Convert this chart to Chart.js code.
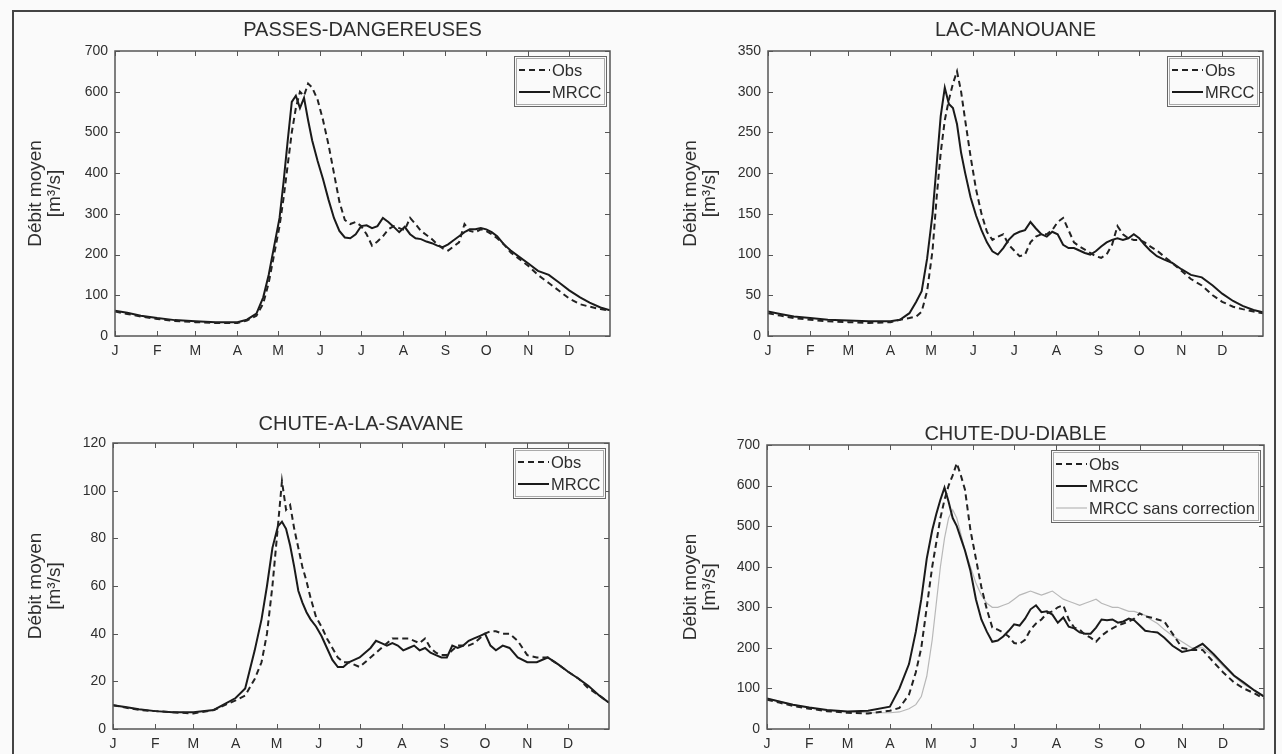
<!DOCTYPE html>
<html><head><meta charset="utf-8">
<script src="https://cdn.jsdelivr.net/npm/chart.js@4.4.1/dist/chart.umd.min.js"></script>
<style>
html,body{margin:0;padding:0;background:#fafafa;}
body{width:1282px;height:754px;position:relative;overflow:hidden;}
.frame{position:absolute;left:12px;top:10px;width:1264px;height:770px;border:2px solid #444;box-sizing:border-box;}
canvas{position:absolute;}
</style></head><body>
<div class="frame"></div>
<canvas id="c1" width="605" height="355" style="left:15px;top:15px"></canvas>
<canvas id="c2" width="603" height="355" style="left:670px;top:15px"></canvas>
<canvas id="c3" width="604" height="358" style="left:15px;top:405px"></canvas>
<canvas id="c4" width="604" height="358" style="left:670px;top:405px"></canvas>
<script>
// ---------- data ----------
const monthDays   = [1,32,60,91,121,152,182,213,244,274,305,335];
const monthLabels = ['J','F','M','A','M','J','J','A','S','O','N','D'];
const days = [1,10,20,32,45,60,75,91,98,105,110,114,118,122,125,128,131,134,137,140,143,146,150,154,158,162,166,170,174,178,182,186,190,194,198,202,206,210,214,218,222,226,230,234,238,242,246,250,254,258,262,266,270,274,278,282,287,292,298,305,312,320,328,335,343,350,358,365];

const titles = ['PASSES-DANGEREUSES','LAC-MANOUANE','CHUTE-A-LA-SAVANE','CHUTE-DU-DIABLE'];
const yTitle = ['Débit moyen','[m³/s]'];
const seriesLabels = ['Obs','MRCC','MRCC sans correction'];

const pdTicks = [0,100,200,300,400,500,600,700];
const lmTicks = [0,50,100,150,200,250,300,350];
const csTicks = [0,20,40,60,80,100,120];
const cdTicks = [0,100,200,300,400,500,600,700];

// PASSES-DANGEREUSES
const pdObs  = [60,54,48,42,37,34,32,32, 38,50,80,130,200,270,340,420,500,560, 600,590,620,610,580,530,470,400,330,285, 275,280,270,250,222,232,245,262,270,265, 260,290,275,258,248,238,225,215,210,220, 230,275,258,255,262,258,250,240,225,205, 190,172,150,130,110,92,78,72,66,62];
const pdMrcc = [62,57,50,44,39,36,34,34, 40,55,95,150,220,290,380,480,575,590, 560,585,530,480,430,385,335,290,258,242, 240,250,270,272,265,270,290,280,268,255, 268,250,240,238,232,228,222,218,225,235, 245,255,262,262,265,262,255,245,225,210, 195,178,160,150,130,112,95,82,70,63];

// LAC-MANOUANE
const lmObs  = [28,25,22,20,18,17,16,17, 20,22,24,30,55,105,170,225,265,290, 310,325,300,265,220,180,150,128,118,122, 125,112,105,98,100,115,122,125,125,130, 140,145,130,115,110,106,102,98,96,100, 112,135,125,120,118,118,115,110,105,98, 90,80,70,62,50,42,36,33,30,28];
const lmMrcc = [30,27,24,22,20,19,18,18, 20,28,42,55,95,150,210,270,305,285, 280,260,225,200,170,148,130,115,104,100, 108,118,125,128,130,140,132,125,122,128, 125,112,108,108,105,102,100,104,110,115, 118,120,118,120,125,120,112,105,98,94, 90,82,75,72,62,52,43,37,32,29];

// CHUTE-A-LA-SAVANE
const csObs  = [10,9,8,7.5,7,6.5,8,12, 14,21,28,40,60,85,104,92,94,84, 76,68,62,55,47,43,38,34,30,28, 28,27,26,28,30,32,34,36,38,38, 38,38,37,36,38,34,32,31,31,33, 35,35,35,36,38,40,41,41,40,40, 37,31,30,30,27,24,21,17,14,11];
const csMrcc = [10,9.2,8.3,7.5,7,7,8,13, 17,33,46,60,76,85,87,84,77,68, 58,53,49,46,43,39,34,29,26,26, 28,29,30,32,34,37,36,35,36,35, 33,34,35,33,34,32,31,30,30,35, 34,35,37,38,39,40,35,33,35,34, 30,28,28,30,27,24,21,18,14,11];

// CHUTE-DU-DIABLE
const cdObs  = [72,65,57,50,44,40,38,45, 52,85,140,200,300,400,460,520,565,600, 625,655,625,590,490,420,350,295,250,245, 238,228,212,210,220,245,260,270,285,290, 300,305,270,250,245,232,225,215,230,240, 248,255,260,265,272,285,278,275,270,265, 235,200,195,195,165,140,115,100,88,75];
const cdMrcc = [75,68,60,53,47,43,45,55, 100,160,240,320,420,490,530,565,595,560, 520,500,470,440,390,320,270,240,215,218, 228,242,258,255,272,295,305,288,290,282, 262,275,252,248,238,235,235,250,270,268, 270,262,265,272,268,255,242,240,238,225, 205,190,195,210,185,160,132,115,95,80];
const cdRaw  = [75,68,60,52,46,42,40,40, 42,50,60,80,130,220,310,400,470,520, 540,520,480,440,400,360,330,310,300,300, 305,310,320,330,335,340,335,330,335,340, 330,320,315,310,305,310,315,320,310,305, 300,300,295,290,290,285,280,270,260,245, 230,215,200,200,180,155,130,110,95,80];

// ---------- drawing ----------
const FONT = '"Liberation Sans", Arial, Helvetica, sans-serif';
const TXT = '#2e2e2e';

const boxPlugin = {
  id: 'matlabBox',
  afterDraw(chart) {
    const {ctx, chartArea: a, scales} = chart;
    ctx.save();
    ctx.strokeStyle = '#555';
    ctx.lineWidth = 1.5;
    ctx.setLineDash([]);
    ctx.strokeRect(a.left, a.top, a.right - a.left, a.bottom - a.top);
    ctx.lineWidth = 1;
    const L = 5;
    ctx.beginPath();
    scales.x.ticks.forEach(t => {
      const px = Math.round(scales.x.getPixelForValue(t.value)) + 0.5;
      ctx.moveTo(px, a.bottom); ctx.lineTo(px, a.bottom - L);
      ctx.moveTo(px, a.top); ctx.lineTo(px, a.top + L);
    });
    scales.y.ticks.forEach(t => {
      const py = Math.round(scales.y.getPixelForValue(t.value)) + 0.5;
      ctx.moveTo(a.left, py); ctx.lineTo(a.left + L, py);
      ctx.moveTo(a.right, py); ctx.lineTo(a.right - L, py);
    });
    ctx.stroke();

    // legend inside top-right
    const items = chart.data.datasets;
    ctx.font = '16.5px ' + FONT;
    const sample = 31, pad = 5, gap = 2, rowH = 22;
    const tw = Math.max(...items.map(d => ctx.measureText(d.label).width));
    const w = Math.round(pad + sample + gap + tw + pad);
    const h = 28 + rowH * (items.length - 1);
    const x = Math.round(a.right - 4 - w), y = Math.round(a.top + 5);
    ctx.fillStyle = '#fafafa';
    ctx.fillRect(x, y, w, h);
    ctx.strokeStyle = '#666'; ctx.lineWidth = 1;
    ctx.strokeRect(x + 0.5, y + 0.5, w, h);
    ctx.strokeStyle = '#aaa';
    ctx.strokeRect(x + 2.5, y + 2.5, w - 4, h - 4);
    items.forEach((d, i) => {
      const cy = y + 14 + i * rowH;
      ctx.beginPath();
      ctx.setLineDash(d.borderDash || []);
      ctx.strokeStyle = d.borderColor;
      ctx.lineWidth = d.borderWidth;
      ctx.moveTo(x + pad, cy); ctx.lineTo(x + pad + sample, cy);
      ctx.stroke();
      ctx.setLineDash([]);
      ctx.fillStyle = TXT;
      ctx.textBaseline = 'middle';
      ctx.textAlign = 'left';
      ctx.fillText(d.label, x + pad + sample + gap, cy + 1);
    });
    ctx.restore();
  }
};

function ds(label, values, style) {
  return Object.assign({
    label: label,
    data: days.map((d, i) => ({x: d, y: values[i]})),
    pointRadius: 0, tension: 0, fill: false
  }, style);
}
const obsStyle  = {borderColor: '#222', borderWidth: 2, borderDash: [6, 4]};
const mrccStyle = {borderColor: '#1a1a1a', borderWidth: 2};
const rawStyle  = {borderColor: '#b8b8b8', borderWidth: 1.2};

function makeChart(id, cfg) {
  return new Chart(document.getElementById(id), {
    type: 'line',
    data: {datasets: cfg.datasets},
    options: {
      responsive: false, animation: false, events: [],
      layout: {padding: {left: 0, right: 10, top: 0, bottom: 0}},
      plugins: {
        legend: {display: false}, tooltip: {enabled: false},
        title: {display: true, text: cfg.title, fullSize: false, color: TXT,
          font: {size: 20, family: FONT, weight: 'normal', lineHeight: 1.1},
          padding: {top: cfg.tTop, bottom: cfg.tBottom}}
      },
      scales: {
        x: {
          type: 'linear', min: 1, max: 365,
          afterBuildTicks: s => { s.ticks = monthDays.map(v => ({value: v})); },
          afterFit: s => { s.height = 34; },
          grid: {display: false, drawTicks: false}, border: {display: false},
          ticks: {autoSkip: false, maxRotation: 0, padding: 7, color: TXT,
            font: {size: 14, family: FONT},
            callback: v => monthLabels[monthDays.indexOf(v)]}
        },
        y: {
          min: 0, max: cfg.yTicks[cfg.yTicks.length - 1],
          afterBuildTicks: s => { s.ticks = cfg.yTicks.map(v => ({value: v})); },
          afterFit: s => { s.width = cfg.yw; },
          grid: {display: false, drawTicks: false}, border: {display: false},
          ticks: {padding: 7, color: TXT, font: {size: 14, family: FONT}},
          title: {display: true, text: yTitle, color: TXT,
            font: {size: 19, family: FONT, lineHeight: 1.0},
            padding: {top: 11, bottom: 0}}
        }
      }
    },
    plugins: [boxPlugin]
  });
}

makeChart('c1', {title: titles[0], yTicks: pdTicks, yw: 100, tTop: 4, tBottom: 10,
  datasets: [ds(seriesLabels[0], pdObs, obsStyle), ds(seriesLabels[1], pdMrcc, mrccStyle)]});
makeChart('c2', {title: titles[1], yTicks: lmTicks, yw: 98, tTop: 4, tBottom: 10,
  datasets: [ds(seriesLabels[0], lmObs, obsStyle), ds(seriesLabels[1], lmMrcc, mrccStyle)]});
makeChart('c3', {title: titles[2], yTicks: csTicks, yw: 98, tTop: 8, tBottom: 8,
  datasets: [ds(seriesLabels[0], csObs, obsStyle), ds(seriesLabels[1], csMrcc, mrccStyle)]});
makeChart('c4', {title: titles[3], yTicks: cdTicks, yw: 97, tTop: 18, tBottom: 0,
  datasets: [ds(seriesLabels[0], cdObs, obsStyle), ds(seriesLabels[1], cdMrcc, mrccStyle), ds(seriesLabels[2], cdRaw, rawStyle)]});
</script>
</body></html>
